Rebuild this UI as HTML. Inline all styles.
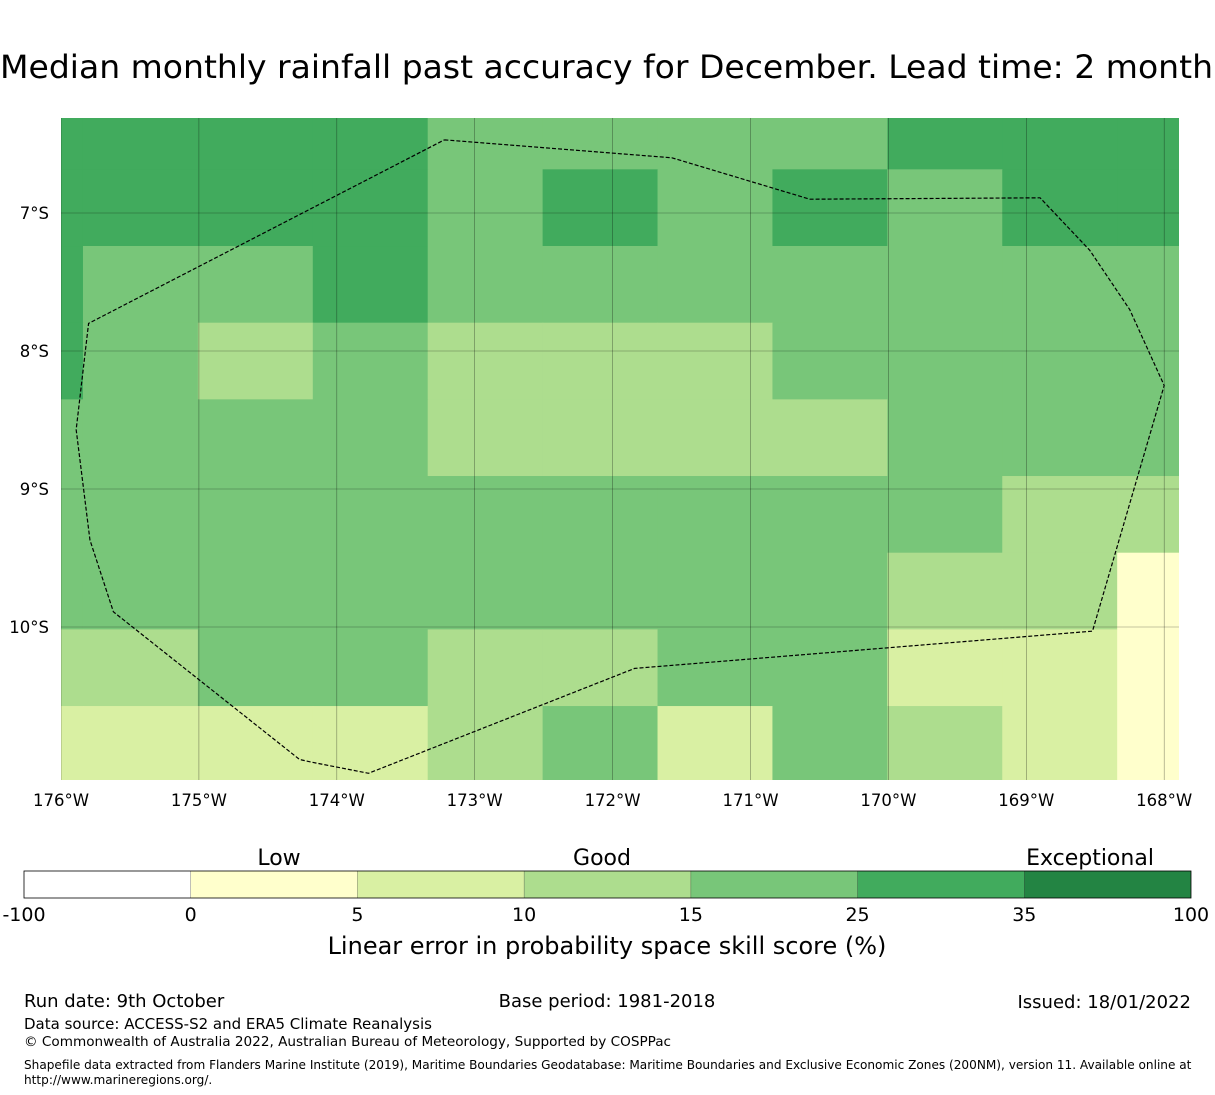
<!DOCTYPE html>
<html><head><meta charset="utf-8"><style>
html,body{margin:0;padding:0;background:#fff;}
svg{display:block;font-family:"DejaVu Sans","Liberation Sans",sans-serif;}
</style></head><body>
<svg id="chart" width="1215" height="1095" viewBox="0 0 1215 1095" xmlns="http://www.w3.org/2000/svg">
<text x="0" y="78" font-size="32" textLength="1213" lengthAdjust="spacingAndGlyphs">Median monthly rainfall past accuracy for December. Lead time: 2 month</text>
<defs><clipPath id="mapclip"><rect x="61" y="118" width="1118" height="662"/></clipPath></defs>
<g id="map" clip-path="url(#mapclip)"></g>
<g id="axes"></g>
<g id="cbar"></g>
<text x="279" y="865" font-size="22" text-anchor="middle">Low</text>
<text x="602" y="865" font-size="22" text-anchor="middle">Good</text>
<text x="1090" y="865" font-size="22" text-anchor="middle">Exceptional</text>
<text x="607" y="954" font-size="24" text-anchor="middle">Linear error in probability space skill score (%)</text>
<text x="24" y="1007" font-size="18">Run date: 9th October</text>
<text x="607" y="1007" font-size="18" text-anchor="middle">Base period: 1981-2018</text>
<text x="1191" y="1008" font-size="18" text-anchor="end">Issued: 18/01/2022</text>
<text x="24" y="1029" font-size="15">Data source: ACCESS-S2 and ERA5 Climate Reanalysis</text>
<text x="24" y="1046" font-size="13.6">© Commonwealth of Australia 2022, Australian Bureau of Meteorology, Supported by COSPPac</text>
<text x="24" y="1069" font-size="12.1">Shapefile data extracted from Flanders Marine Institute (2019), Maritime Boundaries Geodatabase: Maritime Boundaries and Exclusive Economic Zones (200NM), version 11. Available online at</text>
<text x="24" y="1084" font-size="12.1">http://www.marineregions.org/.</text>
</svg>
<script>
// skill category per cell (0:<0,1:0-5,2:5-10,3:10-15,4:15-25,5:25-35,6:35-100), rows north->south
const gridRows = [
 [5,5,5,5,4,4,4,4,5,5,5],
 [5,5,5,5,4,5,4,5,4,5,5],
 [5,4,4,5,4,4,4,4,4,4,4],
 [5,4,3,4,3,3,3,4,4,4,4],
 [4,4,4,4,3,3,3,3,4,4,4],
 [4,4,4,4,4,4,4,4,4,3,3],
 [4,4,4,4,4,4,4,4,3,3,1],
 [3,3,4,4,3,3,4,4,2,2,1],
 [2,2,2,2,3,4,2,4,3,2,1]
];
const lonTicks = [176,175,174,173,172,171,170,169,168];
const latTicks = [7,8,9,10];
const cbarBounds = ["-100","0","5","10","15","25","35","100"];
const cbarColors = ["#ffffff","#ffffcc","#d9f0a3","#addd8e","#78c679","#41ab5d","#238443"];
const eez = [[173.22,6.47],[171.57,6.60],[170.57,6.90],[168.90,6.89],[168.54,7.27],[168.25,7.70],[168.00,8.25],[168.52,10.03],[171.84,10.30],[173.77,11.06],[174.18,10.98],[174.27,10.96],[175.62,9.89],[175.79,9.37],[175.89,8.57],[175.80,7.80],[173.22,6.47]];

const NS='http://www.w3.org/2000/svg';
const x0=61,lon0=176,pxDeg=137.9,y0=213,lat0=7;
const X=lon=>x0+(lon0-lon)*pxDeg;
const Y=lat=>y0+(lat-lat0)*138;
const cellW=0.8333,cellH=0.5556,gLon0=176.674,gLat0=6.128;
function mk(tag,attrs,parent){const e=document.createElementNS(NS,tag);for(const k in attrs)e.setAttribute(k,attrs[k]);parent.appendChild(e);return e;}
const map=document.getElementById('map');
gridRows.forEach((row,r)=>row.forEach((v,c)=>{
  const lw=gLon0-c*cellW, la=gLat0+r*cellH;
  const e=mk('rect',{x:X(lw),y:Y(la),width:cellW*pxDeg+0.5,height:cellH*138+0.5,fill:cbarColors[v]},map);
  
  
}));
lonTicks.forEach(l=>{const e=mk('line',{x1:X(l),x2:X(l),y1:118,y2:780,stroke:'#000','stroke-opacity':0.45,'stroke-width':0.6},map);
  });
latTicks.forEach(l=>{const e=mk('line',{x1:61,x2:1179,y1:Y(l),y2:Y(l),stroke:'#000','stroke-opacity':0.45,'stroke-width':0.6},map);
  });
const pe=mk('polyline',{points:eez.map(p=>X(p[0])+','+Y(p[1])).join(' '),fill:'none',stroke:'#000','stroke-width':1.2,'stroke-dasharray':'4,2'},map);

const axes=document.getElementById('axes');
lonTicks.forEach(l=>{const t=mk('text',{x:X(l),y:806,'font-size':16.5,'text-anchor':'middle'},axes);t.textContent=l+'°W';
  });
latTicks.forEach(l=>{const t=mk('text',{x:49,y:Y(l)+6,'font-size':16.5,'text-anchor':'end'},axes);t.textContent=l+'°S';
  });
const cb=document.getElementById('cbar');
const cbx=24,cbw=1167,n=cbarColors.length,sw=cbw/n;
cbarColors.forEach((c,i)=>{const e=mk('rect',{x:cbx+i*sw,y:871,width:sw,height:27,fill:c},cb);
  });
for(let i=1;i<n;i++){const e=mk('line',{x1:cbx+i*sw,x2:cbx+i*sw,y1:871,y2:898,stroke:'#000','stroke-width':0.5,'stroke-opacity':0.5},cb);
  }
const ob=mk('rect',{x:cbx,y:871,width:cbw,height:27,fill:'none',stroke:'#000','stroke-width':0.8},cb);

cbarBounds.forEach((b,i)=>{const t=mk('text',{x:cbx+i*sw,y:921,'font-size':19,'text-anchor':'middle'},cb);t.textContent=b;
  });
</script>
</body></html>
